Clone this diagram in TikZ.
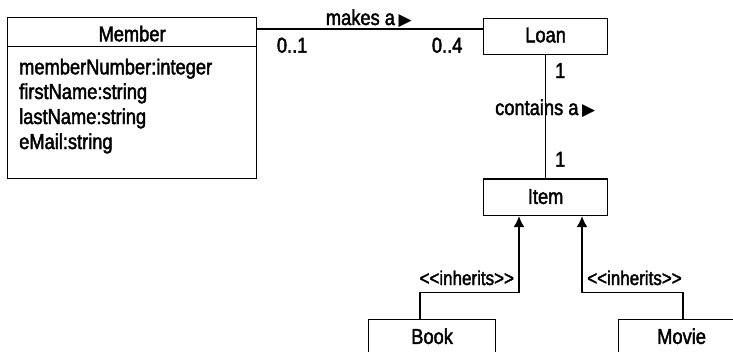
\documentclass[tikz,border=0pt]{standalone}
\usepackage{fontspec}
\setmainfont{Liberation Sans}[FakeStretch=0.85, FakeBold=2]
\newfontfamily\symfont{DejaVu Sans}
\usetikzlibrary{arrows.meta}
\tikzset{
  box/.style={draw, line width=1.2pt, inner sep=0pt, text depth=0pt, minimum width=124pt, minimum height=36pt},
  lbl/.style={inner sep=0pt, anchor=base west},
  inhlbl/.style={lbl, font=\fontsize{20}{24}\selectfont},
  conn/.style={line width=1.2pt},
  inh/.style={line width=1.2pt, -{Latex[length=11pt,width=11pt]}},
}
\newcommand{\tri}{{\symfont\fontsize{17}{17}\selectfont ▶}}
\begin{document}
\begin{tikzpicture}[x=1pt,y=-1pt,font=\fontsize{21.5}{25}\selectfont]
\useasboundingbox (0,0) rectangle (733,351);
\clip (0,0) rectangle (733,351);
% Member class
\node[box, minimum width=249pt, minimum height=28.7pt, text height=18.7pt, anchor=north west] (memberhead) at (7,17) {Member};
\node[draw, line width=1.2pt, minimum width=249pt, minimum height=132pt, anchor=north west, inner sep=0pt] (memberbody) at (7,45.7) {};
\node[lbl] (attr1) at (19,74.3) {memberNumber:integer};
\node[lbl] (attr2) at (19,99) {firstName:string};
\node[lbl] (attr3) at (19,124) {lastName:string};
\node[lbl] (attr4) at (19,149) {eMail:string};
% Loan, Item
\node[box, anchor=north west, text height=12.4pt] (loan) at (483,17.5) {Loan};
\node[box, anchor=north west, minimum height=36.7pt, text height=13.3pt] (item) at (483,178.3) {Item};
% Book, Movie
\node[box, anchor=north west, minimum width=127pt, minimum height=40pt, text height=8.6pt] (book) at (368,319) {Book};
\node[box, anchor=north west, minimum width=126pt, minimum height=40pt, text height=8.6pt] (movie) at (618,319) {Movie};
% associations
\draw[conn] (memberhead.east |- 0,29) -- (loan.west |- 0,29);
\node[lbl] (makes) at (325.7,25) {makes a\,\tri};
\node[lbl] (m1) at (276.7,52.7) {0..1};
\node[lbl] (m2) at (431.7,52.7) {0..4};
\draw[conn] (loan.south) -- (item.north);
\node[lbl] (c1) at (555,78) {1};
\node[lbl] (c2) at (555,166.7) {1};
\node[lbl] (contains) at (495,115) {contains a\,\tri};
% inheritance
\draw[inh] (book.north -| 420,0) |- (519,292.3) -- (item.south -| 519,0);
\draw[inh] (movie.north -| 683,0) |- (582,292.3) -- (item.south -| 582,0);
\node[inhlbl] (inh1) at (419.3,285) {<{}<inherits>{}>};
\node[inhlbl] (inh2) at (587,285) {<{}<inherits>{}>};
\end{tikzpicture}
\end{document}
